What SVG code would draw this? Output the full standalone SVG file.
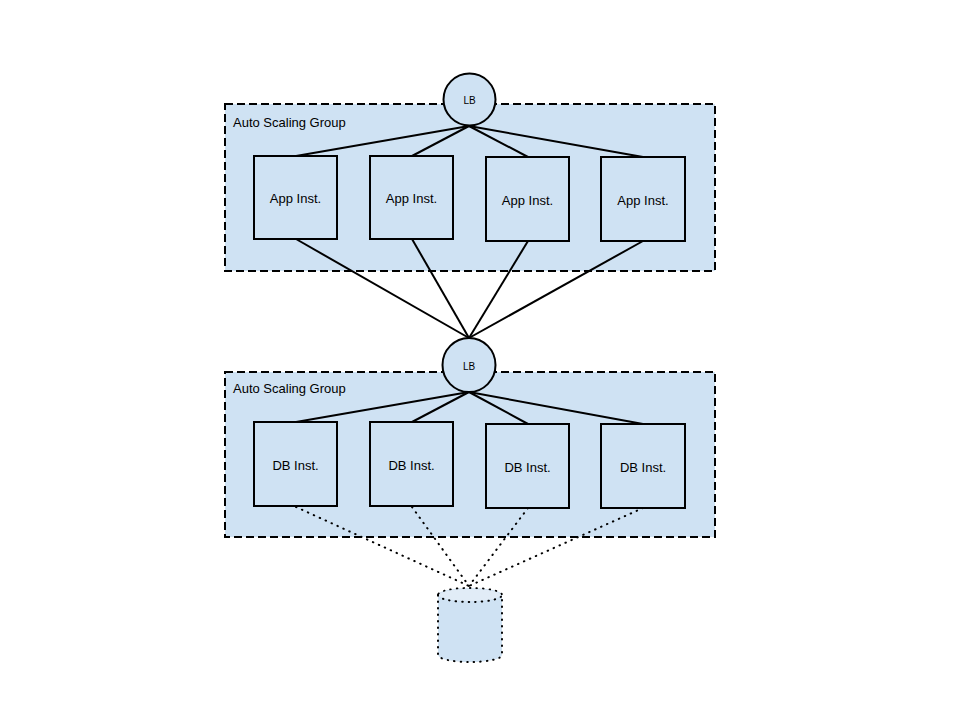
<svg xmlns="http://www.w3.org/2000/svg" width="960" height="720" viewBox="0 0 960 720">
<style>
.grp{fill:#cfe2f3;stroke:#000;stroke-width:2;stroke-dasharray:8,4}
.box{fill:#cfe2f3;stroke:#000;stroke-width:2}
.lb{fill:#cfe2f3;stroke:#000;stroke-width:2}
.ln{stroke:#000;stroke-width:2;fill:none}
.dot{stroke:#000;stroke-width:2;fill:none;stroke-dasharray:0.5,6;stroke-linecap:round}
.t{font-family:"Liberation Sans",Arial,sans-serif;font-size:13px;fill:#000}
.tc{font-family:"Liberation Sans",Arial,sans-serif;font-size:13px;fill:#000;text-anchor:middle;dominant-baseline:central}
.ts{font-family:"Liberation Sans",Arial,sans-serif;font-size:10px;fill:#000;text-anchor:middle;dominant-baseline:central}
</style>
<rect width="960" height="720" fill="#fff"/>
<g id="asg1">
<rect class="grp" x="225" y="104" width="490" height="167"/>
<text class="t" x="233" y="127">Auto Scaling Group</text>
</g>
<g id="asg2">
<rect class="grp" x="225" y="372" width="490" height="165"/>
<text class="t" x="233" y="393">Auto Scaling Group</text>
</g>
<g id="connectors">
<line class="ln" x1="469" y1="126" x2="296" y2="156"/>
<line class="ln" x1="469" y1="126" x2="412" y2="156"/>
<line class="ln" x1="469" y1="126" x2="528" y2="157"/>
<line class="ln" x1="469" y1="126" x2="643" y2="157"/>
<line class="ln" x1="296" y1="239" x2="469" y2="338"/>
<line class="ln" x1="412" y1="239" x2="469" y2="338"/>
<line class="ln" x1="528" y1="241" x2="469" y2="338"/>
<line class="ln" x1="643" y1="241" x2="469" y2="338"/>
<line class="ln" x1="469" y1="392" x2="296" y2="422"/>
<line class="ln" x1="469" y1="392" x2="412" y2="422"/>
<line class="ln" x1="469" y1="392" x2="528" y2="424"/>
<line class="ln" x1="469" y1="392" x2="643" y2="424"/>
<line class="dot" x1="296" y1="507" x2="469" y2="586"/>
<line class="dot" x1="412" y1="507" x2="469" y2="586"/>
<line class="dot" x1="528" y1="508" x2="469" y2="586"/>
<line class="dot" x1="643" y1="508" x2="469" y2="586"/>
</g>
<g id="lb1">
<circle class="lb" cx="469.5" cy="99.5" r="26"/>
<text class="ts" x="469.5" y="100">LB</text>
</g>
<g id="app1"><rect class="box" x="254" y="156" width="83" height="83"/><text class="tc" x="295.5" y="198">App Inst.</text></g>
<g id="app2"><rect class="box" x="370" y="156" width="83" height="83"/><text class="tc" x="411.5" y="198">App Inst.</text></g>
<g id="app3"><rect class="box" x="486" y="157" width="83" height="84"/><text class="tc" x="527.5" y="200">App Inst.</text></g>
<g id="app4"><rect class="box" x="601" y="157" width="84" height="84"/><text class="tc" x="643" y="200">App Inst.</text></g>
<g id="lb2">
<ellipse class="lb" cx="469" cy="365" rx="26.5" ry="27"/>
<text class="ts" x="469" y="366">LB</text>
</g>
<g id="db1"><rect class="box" x="254" y="422" width="83" height="84"/><text class="tc" x="295.5" y="465">DB Inst.</text></g>
<g id="db2"><rect class="box" x="370" y="422" width="83" height="84"/><text class="tc" x="411.5" y="465">DB Inst.</text></g>
<g id="db3"><rect class="box" x="486" y="424" width="83" height="84"/><text class="tc" x="527.5" y="467">DB Inst.</text></g>
<g id="db4"><rect class="box" x="601" y="424" width="84" height="84"/><text class="tc" x="643" y="467">DB Inst.</text></g>
<g id="storage">
<path d="M438,595 L438,655 A32,7 0 0 0 502,655 L502,595 A32,7 0 0 0 438,595 Z" fill="#cfe2f3" stroke="#000" stroke-width="2" stroke-dasharray="0.5,6" stroke-linecap="round"/>
<ellipse cx="470" cy="595" rx="31" ry="6" fill="#e1ecf7" stroke="none"/>
<path d="M438,595 A32,7 0 0 0 502,595" fill="none" stroke="#000" stroke-width="2" stroke-dasharray="0.5,6" stroke-linecap="round"/>
</g>
</svg>
